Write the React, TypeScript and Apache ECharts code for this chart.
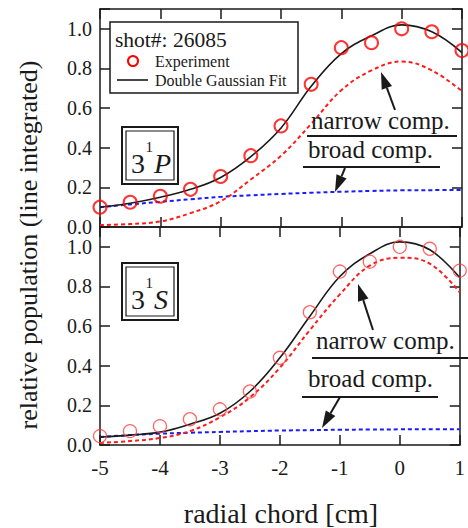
import React, { useEffect, useRef } from 'react';
import * as echarts from 'echarts';

// radial chord positions [cm]
const xPos = [-5, -4.5, -4, -3.5, -3, -2.5, -2, -1.5, -1, -0.5, 0, 0.5, 1];

// 3^1P panel (top)
const expP = [0.1, 0.125, 0.155, 0.19, 0.255, 0.36, 0.51, 0.72, 0.905, 0.93, 1.0, 0.985, 0.89];
const fitP = [0.1, 0.12, 0.15, 0.19, 0.25, 0.355, 0.5, 0.71, 0.875, 0.965, 1.02, 0.985, 0.88];
const narrowP = [0.01, 0.015, 0.028, 0.07, 0.13, 0.24, 0.36, 0.52, 0.69, 0.79, 0.835, 0.79, 0.685];
const broadP = [0.1, 0.114, 0.127, 0.14, 0.152, 0.16, 0.167, 0.173, 0.178, 0.182, 0.185, 0.186, 0.187];

// 3^1S panel (bottom)
const expS = [0.045, 0.07, 0.095, 0.13, 0.18, 0.27, 0.44, 0.67, 0.875, 0.925, 1.0, 0.99, 0.88];
const fitS = [0.04, 0.05, 0.065, 0.105, 0.16, 0.27, 0.44, 0.65, 0.85, 0.965, 1.025, 0.985, 0.845];
const narrowS = [0.01, 0.02, 0.035, 0.07, 0.14, 0.24, 0.39, 0.58, 0.76, 0.905, 0.945, 0.915, 0.77];
const broadS = [0.04, 0.05, 0.057, 0.062, 0.066, 0.07, 0.073, 0.075, 0.077, 0.078, 0.079, 0.08, 0.08];

const xTitle = 'radial chord [cm]';
const yTitle = 'relative population (line integrated)';
const shotLabel = 'shot#: 26085';
const legendExp = 'Experiment';
const legendFit = 'Double Gaussian Fit';
const narrowLabel = 'narrow comp.';
const broadLabel = 'broad comp.';

const FONT = '"Liberation Serif", serif';
const INK = '#1a1a1a';
const RED = '#ff1a1a';
const BLUE = '#1a1aff';

const pairs = (ys: number[]) => xPos.map((x, i) => [x, ys[i]]);

function arrow(x1: number, y1: number, x2: number, y2: number) {
  const dx = x2 - x1;
  const dy = y2 - y1;
  const len = Math.sqrt(dx * dx + dy * dy);
  const ux = dx / len;
  const uy = dy / len;
  const hl = 17;
  const hw = 5.5;
  const bx = x2 - ux * hl;
  const by = y2 - uy * hl;
  return [
    { type: 'line', z: 100, shape: { x1, y1, x2: bx, y2: by }, style: { stroke: INK, lineWidth: 2 } },
    {
      type: 'polygon',
      z: 100,
      shape: { points: [[x2, y2], [bx - uy * hw, by + ux * hw], [bx + uy * hw, by - ux * hw]] },
      style: { fill: INK },
    },
  ];
}

function styledText(x: number, y: number, text: string, size: number, align = 'left', italic = false) {
  return {
    type: 'text', z: 101, x, y,
    style: {
      text, fontSize: size, fontFamily: FONT, fontStyle: italic ? 'italic' : 'normal',
      fill: INK, textAlign: align, textVerticalAlign: 'middle',
    },
  };
}

function labelBox(y: number, letter: string) {
  return [
    { type: 'rect', z: 100, shape: { x: 122, y, width: 56, height: 57 }, style: { fill: '#fff', stroke: INK, lineWidth: 2 } },
    { type: 'rect', z: 100, shape: { x: 126, y: y + 4, width: 48, height: 49 }, style: { fill: 'none', stroke: INK, lineWidth: 1.2 } },
    styledText(131, y + 36, '3', 28),
    styledText(145.5, y + 20, '1', 15),
    styledText(154, y + 36, letter, 28, 'left', true),
  ];
}

function hline(x1: number, x2: number, y: number) {
  return { type: 'line', z: 100, shape: { x1, y1: y, x2, y2: y }, style: { stroke: INK, lineWidth: 2 } };
}

const axisLineStyle = { show: true, onZero: false, lineStyle: { color: INK, width: 1.5 } };
const tickStyle = { show: true, inside: true, length: 10, lineStyle: { color: INK, width: 1.5 } };

function xAx(gridIndex: number, position: string, labels: boolean) {
  return {
    type: 'value', gridIndex, position, min: -5, max: 1, interval: 1,
    axisLine: axisLineStyle, axisTick: tickStyle, splitLine: { show: false },
    axisLabel: { show: labels, margin: 12, color: INK, fontFamily: FONT, fontSize: 21 },
  };
}

function yAx(gridIndex: number, position: string, labels: boolean) {
  return {
    type: 'value', gridIndex, position, min: 0, max: 1.1, interval: 0.2,
    axisLine: axisLineStyle, axisTick: tickStyle, splitLine: { show: false },
    axisLabel: {
      show: labels, margin: 8, color: INK, fontFamily: FONT, fontSize: 20, lineHeight: 16,
      formatter: (v: number) => (v > 1.05 ? '' : v.toFixed(1)),
    },
  };
}

function panelSeries(axIdx: number, exp: number[], fit: number[], narrow: number[], broad: number[], big: boolean) {
  return [
    {
      type: 'line', xAxisIndex: axIdx, yAxisIndex: axIdx, data: pairs(broad), smooth: 0.4, showSymbol: false,
      lineStyle: { color: BLUE, width: 2, type: [4, 3] }, z: 2,
    },
    {
      type: 'line', xAxisIndex: axIdx, yAxisIndex: axIdx, data: pairs(narrow), smooth: 0.4, showSymbol: false,
      lineStyle: { color: RED, width: 2, type: [4, 3] }, z: 3,
    },
    {
      type: 'line', xAxisIndex: axIdx, yAxisIndex: axIdx, data: pairs(fit), smooth: 0.4, showSymbol: false,
      lineStyle: { color: INK, width: 1.6 }, z: 4,
    },
    {
      type: 'scatter', xAxisIndex: axIdx, yAxisIndex: axIdx, data: pairs(exp), clip: false,
      symbol: 'circle', symbolSize: 13,
      itemStyle: { color: 'rgba(255,255,255,0)', borderColor: big ? '#ff0000' : '#ff4040', borderWidth: big ? 2 : 1.3 },
      z: 5,
    },
  ];
}

export default function App() {
  const ref = useRef<HTMLDivElement>(null);
  useEffect(() => {
    if (!ref.current) return;
    const chart = echarts.init(ref.current, undefined, { renderer: 'svg' });
    const option: any = {
      animation: false,
      backgroundColor: '#fff',
      grid: [
        { left: 100, width: 362, top: 9, height: 218 },
        { left: 100, width: 362, top: 227, height: 218 },
      ],
      xAxis: [xAx(0, 'bottom', false), xAx(1, 'bottom', true), xAx(0, 'top', false), xAx(1, 'top', false)],
      yAxis: [yAx(0, 'left', true), yAx(1, 'left', true), yAx(0, 'right', false), yAx(1, 'right', false)],
      series: [
        ...panelSeries(0, expP, fitP, narrowP, broadP, true),
        ...panelSeries(1, expS, fitS, narrowS, broadS, false),
      ],
      graphic: [
        // axis titles
        { type: 'text', z: 101, x: 28, y: 245, rotation: Math.PI / 2,
          style: { text: yTitle, fontSize: 26, fontFamily: FONT, fill: INK, textAlign: 'center', textVerticalAlign: 'middle' } },
        styledText(281, 513, xTitle, 28, 'center'),
        // legend box
        { type: 'rect', z: 100, shape: { x: 110, y: 22, width: 188, height: 71 }, style: { fill: '#fff', stroke: INK, lineWidth: 1.5 } },
        styledText(115, 40, shotLabel, 21.5),
        { type: 'circle', z: 101, shape: { cx: 133, cy: 61, r: 5 }, style: { fill: 'none', stroke: '#ff0000', lineWidth: 2 } },
        styledText(155, 61, legendExp, 16),
        { type: 'line', z: 101, shape: { x1: 117, y1: 80, x2: 148, y2: 80 }, style: { stroke: INK, lineWidth: 1.6 } },
        styledText(155, 80, legendFit, 16),
        // state boxes
        ...labelBox(127, 'P'),
        ...labelBox(263, 'S'),
        // top annotations
        styledText(311, 120, narrowLabel, 25),
        hline(307, 457, 136),
        styledText(308, 149, broadLabel, 25),
        hline(303, 440, 167),
        ...arrow(395, 110, 381, 72),
        ...arrow(345, 168, 335, 192),
        // bottom annotations
        styledText(316, 340, narrowLabel, 25),
        hline(312, 468, 358),
        styledText(308, 378, broadLabel, 25),
        hline(302, 438, 397),
        ...arrow(373, 330, 358, 284),
        ...arrow(340, 397, 322, 428),
      ],
    };
    chart.setOption(option);
    return () => chart.dispose();
  }, []);
  return <div ref={ref} style={{ position: 'fixed', left: 0, top: 0, width: 468, height: 528 }} />;
}
